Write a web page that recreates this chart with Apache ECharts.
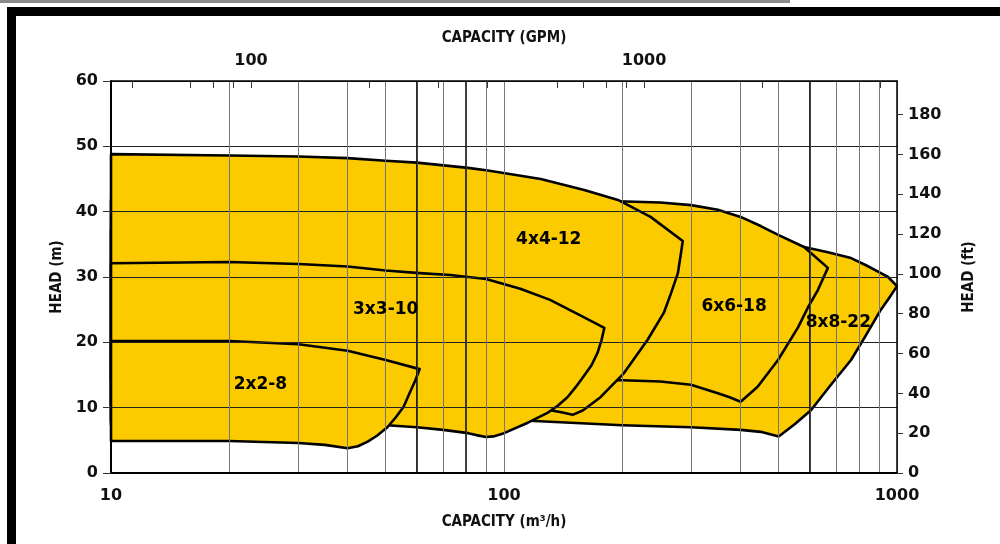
<!DOCTYPE html>
<html>
<head>
<meta charset="utf-8">
<title>Pump coverage</title>
<script src="https://cdn.jsdelivr.net/npm/echarts@6/dist/echarts.min.js"></script>
<style>
  html, body { margin: 0; padding: 0; background: #fff; }
  #chart { width: 1000px; height: 544px; }
</style>
</head>
<body>
<div id="chart"></div>
<script>
// envelopes as [capacity m3/h, head m]: top curve, end of curve, bottom curve
var pump8x8_22 = [
  [10, 37.2], [176, 37.2], [317, 36.4], [450, 35.4], [580, 34.6], [667, 33.8], [764, 32.9], [834, 31.8], [910, 30.6], [949, 30.0], [1000, 28.6],
  [955, 26.8], [910, 25.0], [834, 21.1], [764, 17.3], [679, 13.5], [604, 9.6], [550, 7.5], [500, 5.6],
  [450, 6.3], [400, 6.6], [299, 7.0], [200, 7.3], [116, 8.0], [10, 8.0]
];
var pump6x6_18 = [
  [10, 41.8], [100, 41.7], [195, 41.6], [250, 41.4], [299, 41.0], [350, 40.3], [400, 39.2], [450, 37.8], [500, 36.4], [580, 34.6], [667, 31.4],
  [629, 28.0], [593, 25.3], [560, 22.3], [498, 17.3], [442, 13.2], [400, 10.9],
  [375, 11.6], [350, 12.2], [299, 13.5], [250, 14.0], [200, 14.2], [10, 14.5]
];
var pump4x4_12 = [
  [10, 48.8], [20, 48.6], [30, 48.45], [40, 48.2], [50, 47.8], [60, 47.5], [81, 46.7], [91, 46.3], [124, 45.0], [160, 43.3], [195, 41.8], [236, 39.2], [285, 35.5],
  [281, 33.0], [277, 30.6], [266, 27.5], [255, 24.5], [232, 20.4], [202, 15.3], [176, 11.6], [159, 9.6], [149.5, 8.9],
  [140, 9.3], [131, 9.6], [100, 10.0], [10, 10.4]
];
var pump3x3_10 = [
  [10, 32.1], [20, 32.3], [30, 32.0], [40, 31.6], [50, 31.0], [61, 30.6], [73, 30.3], [90, 29.7], [110, 28.2], [131, 26.5], [159, 23.9], [180, 22.2],
  [177, 20.3], [173, 18.4], [167, 16.5], [159, 14.7], [152, 13.1], [145, 11.6], [137, 10.3], [129, 9.2], [115, 7.7], [100, 6.1], [94, 5.6], [90, 5.5],
  [85, 5.8], [81, 6.1], [70, 6.6], [60, 7.0], [50.5, 7.3], [10, 7.4]
];
var pump2x2_8 = [
  [10, 20.2], [20, 20.2], [30, 19.7], [40, 18.7], [50, 17.3], [61, 15.9],
  [59.5, 14.2], [57.5, 12.2], [55.5, 10.1], [53, 8.5], [50.5, 7.0], [47.5, 5.7], [45, 4.8], [42.5, 4.1], [40, 3.8],
  [35, 4.3], [30, 4.6], [20, 4.9], [10, 4.9]
];

// drawn back to front
var envelopes = [pump8x8_22, pump6x6_18, pump4x4_12, pump3x3_10, pump2x2_8];

var labelNames = ['2x2-8', '3x3-10', '4x4-12', '6x6-18', '8x8-22'];
var labelX = [24, 50, 130, 385, 709];
var labelY = [13.5, 25.0, 35.7, 25.4, 23.0];

var gridX = [10, 20, 30, 40, 50, 60, 70, 80, 90, 100, 200, 300, 400, 500, 600, 700, 800, 900, 1000];
var darkGridX = [60, 80, 600];
var flowLabels = [10, 100, 1000];
var gpmTicks = [50, 70, 80, 90, 100, 200, 300, 400, 600, 700, 800, 900, 1000, 2000, 4000];
var gpmLabels = [100, 1000];
var ftTicks = [0, 20, 40, 60, 80, 100, 120, 140, 160, 180];

var M3H_TO_GPM = 4.40287;
var M_TO_FT = 3.28084;
var YELLOW = '#FBCB00';
var labelFont = 'DejaVu Sans';
var nameFont = '"DejaVu Sans Condensed", "DejaVu Sans"';

var chart = echarts.init(document.getElementById('chart'));

function plainNumber(v) {
  return String(Math.round(v));
}

var series = envelopes.map(function (pts, i) {
  return {
    type: 'custom',
    coordinateSystem: 'cartesian2d',
    xAxisIndex: 0,
    yAxisIndex: 0,
    z: 2 + i,
    silent: true,
    data: pts,
    renderItem: function (params, api) {
      if (params.dataIndex !== 0) return null;
      var coords = pts.map(function (p) { return api.coord(p); });
      return {
        type: 'polygon',
        shape: { points: coords },
        style: { fill: YELLOW, stroke: '#000', lineWidth: 2.6, lineJoin: 'round' }
      };
    }
  };
});

// heavier grid lines, drawn over the fills
series.push({
  type: 'custom',
  coordinateSystem: 'cartesian2d',
  xAxisIndex: 0,
  yAxisIndex: 0,
  z: 15,
  silent: true,
  data: darkGridX.map(function (x) { return [x, 0]; }),
  renderItem: function (params, api) {
    var a = api.coord([api.value(0), 0]);
    var b = api.coord([api.value(0), 60]);
    return {
      type: 'line',
      shape: { x1: a[0], y1: a[1], x2: b[0], y2: b[1] },
      style: { stroke: '#111', lineWidth: 1.4 }
    };
  }
});

// pump size labels
series.push({
  type: 'custom',
  coordinateSystem: 'cartesian2d',
  xAxisIndex: 0,
  yAxisIndex: 0,
  z: 20,
  silent: true,
  data: labelX.map(function (x, i) { return [x, labelY[i], i]; }),
  renderItem: function (params, api) {
    var c = api.coord([api.value(0), api.value(1)]);
    return {
      type: 'text',
      x: c[0],
      y: c[1],
      style: {
        text: labelNames[api.value(2)],
        fill: '#000',
        font: 'bold 17px ' + labelFont,
        align: 'center',
        verticalAlign: 'middle'
      }
    };
  }
});

var option = {
  animation: false,
  backgroundColor: '#fff',
  grid: { left: 111, right: 103, top: 81, bottom: 71 },
  xAxis: [
    {
      type: 'log',
      logBase: 10,
      min: 10,
      max: 1000,
      position: 'bottom',
      z: 10,
      name: 'CAPACITY (m³/h)',
      nameLocation: 'middle',
      nameGap: 42,
      nameTextStyle: { fontFamily: nameFont, fontWeight: 'bold', fontSize: 15, color: '#111' },
      axisLine: { onZero: false, lineStyle: { color: '#000', width: 2 } },
      axisTick: { show: false, customValues: gridX },
      axisLabel: {
        customValues: flowLabels,
        formatter: plainNumber,
        margin: 15,
        fontFamily: labelFont, fontWeight: 'bold', fontSize: 16, color: '#111'
      },
      splitLine: { show: true, lineStyle: { color: '#777', width: 1 } },
      minorTick: { show: false },
      minorSplitLine: { show: false }
    },
    {
      type: 'log',
      logBase: 10,
      min: 10 * M3H_TO_GPM,
      max: 1000 * M3H_TO_GPM,
      position: 'top',
      z: 10,
      name: 'CAPACITY (GPM)',
      nameLocation: 'middle',
      nameGap: 35,
      nameTextStyle: { fontFamily: nameFont, fontWeight: 'bold', fontSize: 15, color: '#111' },
      axisLine: { onZero: false, lineStyle: { color: '#000', width: 1.5 } },
      axisTick: { show: true, inside: true, customValues: gpmTicks, length: 7, lineStyle: { color: '#333' } },
      axisLabel: {
        customValues: gpmLabels,
        formatter: plainNumber,
        margin: 12,
        fontFamily: labelFont, fontWeight: 'bold', fontSize: 16, color: '#111'
      },
      splitLine: { show: false }
    }
  ],
  yAxis: [
    {
      type: 'value',
      min: 0,
      max: 60,
      interval: 10,
      position: 'left',
      z: 10,
      name: 'HEAD (m)',
      nameLocation: 'middle',
      nameRotate: 90,
      nameGap: 45,
      nameTextStyle: { fontFamily: nameFont, fontWeight: 'bold', fontSize: 15, color: '#111' },
      axisLine: { show: true, onZero: false, lineStyle: { color: '#000', width: 2 } },
      axisTick: { show: true, length: 8, lineStyle: { color: '#333' } },
      axisLabel: { margin: 13, fontFamily: labelFont, fontWeight: 'bold', fontSize: 16, color: '#111' },
      splitLine: { show: true, lineStyle: { color: '#222', width: 1 } }
    },
    {
      type: 'value',
      min: 0,
      max: 60 * M_TO_FT,
      position: 'right',
      alignTicks: false,
      z: 10,
      name: 'HEAD (ft)',
      nameLocation: 'middle',
      nameRotate: 90,
      nameGap: 65,
      nameTextStyle: { fontFamily: nameFont, fontWeight: 'bold', fontSize: 15, color: '#111' },
      axisLine: { show: true, onZero: false, lineStyle: { color: '#000', width: 1.5 } },
      axisTick: { show: true, customValues: ftTicks, length: 6, lineStyle: { color: '#333' } },
      axisLabel: {
        customValues: ftTicks,
        margin: 11,
        fontFamily: labelFont, fontWeight: 'bold', fontSize: 16, color: '#111'
      },
      splitLine: { show: false }
    }
  ],
  graphic: [
    { type: 'rect', shape: { x: 0, y: 0, width: 790, height: 3 }, style: { fill: '#8a8a8a' } },
    { type: 'rect', shape: { x: 7, y: 7, width: 993, height: 9 }, style: { fill: '#000' } },
    { type: 'rect', shape: { x: 7, y: 7, width: 9, height: 537 }, style: { fill: '#000' } }
  ],
  series: series
};

chart.setOption(option);
</script>
</body>
</html>
